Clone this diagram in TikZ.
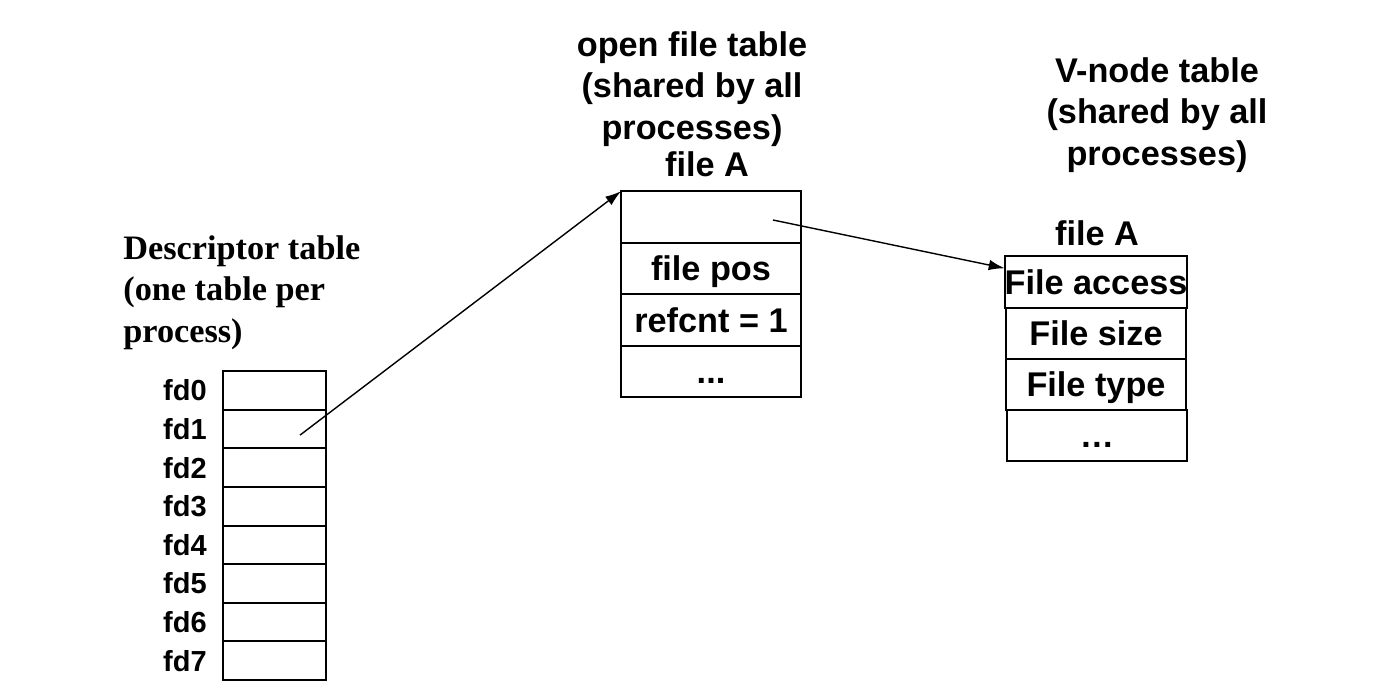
\documentclass[tikz,border=0pt]{standalone}
\usepackage{fontspec}
\setmainfont{Liberation Sans}
\newfontfamily\serifbold{Liberation Serif}
\usepackage{tikz}
\usetikzlibrary{arrows.meta, positioning, calc}

\begin{document}
\begin{tikzpicture}[
    >={Latex[length=9pt, width=6pt]},
    font=\fontsize{19.5}{23.6}\selectfont\bfseries,
    fdcell/.style={
        draw, line width=1.1pt, minimum width=2.06cm, minimum height=0.772cm, inner sep=0pt, outer sep=0pt
    },
    tabcell/.style={
        draw, line width=1.1pt, minimum width=3.6cm, minimum height=1.03cm, inner sep=0pt, outer sep=0pt,
        text height=14.5pt, text depth=0.5pt
    },
    fdlabel/.style={inner sep=0pt, font=\fontsize{16.5}{20}\selectfont\bfseries},
    title/.style={align=center, inner sep=0pt},
    ptr/.style={->, line width=0.8pt}
]

% CANVAS (1384 x 698)
\useasboundingbox (0,0) rectangle (27.68,-13.96);

% DESCRIPTOR TABLE
\node[inner sep=0pt, anchor=west, align=left, font=\serifbold\fontsize{19.5}{23.6}\selectfont\bfseries] (desctitle) at (2.46,-5.85) {Descriptor table\\(one table per\\process)};

\node[fdcell] (fd0) at (5.49,-7.810) {};
\node[fdcell] (fd1) at (5.49,-8.582) {};
\node[fdcell] (fd2) at (5.49,-9.354) {};
\node[fdcell] (fd3) at (5.49,-10.126) {};
\node[fdcell] (fd4) at (5.49,-10.898) {};
\node[fdcell] (fd5) at (5.49,-11.670) {};
\node[fdcell] (fd6) at (5.49,-12.442) {};
\node[fdcell] (fd7) at (5.49,-13.214) {};

\node[fdlabel, left=0.32cm of fd0] (lfd0) {fd0};
\node[fdlabel, left=0.32cm of fd1] (lfd1) {fd1};
\node[fdlabel, left=0.32cm of fd2] (lfd2) {fd2};
\node[fdlabel, left=0.32cm of fd3] (lfd3) {fd3};
\node[fdlabel, left=0.32cm of fd4] (lfd4) {fd4};
\node[fdlabel, left=0.32cm of fd5] (lfd5) {fd5};
\node[fdlabel, left=0.32cm of fd6] (lfd6) {fd6};
\node[fdlabel, left=0.32cm of fd7] (lfd7) {fd7};

% OPEN FILE TABLE
\node[title] (opentitle) at (13.84,-1.78) {open file table\\(shared by all\\processes)};
\node[title] (openfile) at (14.14,-3.28) {file A};

\node[tabcell] (ofile1) at (14.22,-4.34) {};
\node[tabcell] (ofile2) at (14.22,-5.37) {file pos};
\node[tabcell] (ofile3) at (14.22,-6.40) {refcnt = 1};
\node[tabcell] (ofile4) at (14.22,-7.43) {...};

% V-NODE TABLE
\node[title] (vtitle) at (23.14,-2.30) {V-node table\\(shared by all\\processes)};
\node[title] (vfile) at (21.94,-4.66) {file A};

\node[tabcell] (vnode1) at (21.92,-5.64) {File access};
\node[tabcell] (vnode2) at (21.92,-6.67) {File size};
\node[tabcell] (vnode3) at (21.92,-7.69) {File type};
\node[tabcell] (vnode4) at (21.94,-8.71) {…};

% POINTERS
\coordinate (fdptr) at ($(fd1)+(0.51,-0.12)$);
\coordinate (ofptr) at ($(ofile1)+(1.24,-0.06)$);
\coordinate (vin) at ($(vnode1.north west)+(0,-0.24)$);

\draw[ptr] (fdptr) -- (ofile1.north west);
\draw[ptr] (ofptr) -- (vin);

\end{tikzpicture}
\end{document}
